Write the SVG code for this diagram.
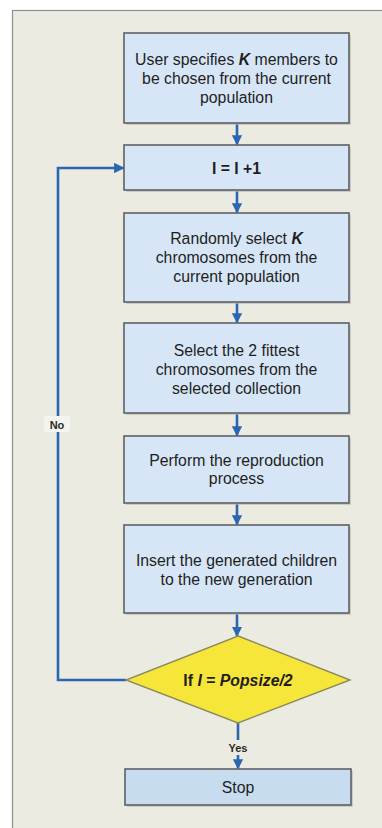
<svg xmlns="http://www.w3.org/2000/svg" width="382" height="828" viewBox="0 0 382 828">
  <style>
    .box { fill: #d6e6f6; stroke: #5e6164; stroke-width: 1.6; }
    .stop { fill: #c8dcef; stroke: #5e6164; stroke-width: 1.6; }
    .shadow { fill: #b8b8ae; opacity: 0.6; }
    .txt { font-family: "Liberation Sans", Arial, sans-serif; font-size: 15.8px; fill: #1e1e1e; text-anchor: middle; }
    .bold { font-weight: bold; }
    .lbl { font-family: "Liberation Sans", Arial, sans-serif; font-size: 11px; font-weight: bold; fill: #2a2a2a; text-anchor: middle; }
    .flow { stroke: #2a66b2; stroke-width: 2.6; fill: none; }
  </style>
  <defs>
    <marker id="arrow" viewBox="0 0 10 10" refX="9" refY="5" markerWidth="4" markerHeight="4" orient="auto" markerUnits="strokeWidth">
      <path d="M0,0 L10,5 L0,10 z" fill="#2a66b2"/>
    </marker>
  </defs>

  <!-- page background and panel -->
  <rect x="0" y="0" width="382" height="828" fill="#ffffff"/>
  <rect x="12.5" y="10.5" width="380" height="830" fill="#ebebe1" stroke="#8e8e88" stroke-width="1.2"/>

  <!-- connectors -->
  <g id="connectors">
    <line class="flow" x1="237" y1="124" x2="237" y2="144.5" marker-end="url(#arrow)"/>
    <line class="flow" x1="237" y1="191" x2="237" y2="212.5" marker-end="url(#arrow)"/>
    <line class="flow" x1="237" y1="303" x2="237" y2="322.5" marker-end="url(#arrow)"/>
    <line class="flow" x1="237" y1="414" x2="237" y2="435.5" marker-end="url(#arrow)"/>
    <line class="flow" x1="237" y1="504" x2="237" y2="524.5" marker-end="url(#arrow)"/>
    <line class="flow" x1="237" y1="614" x2="237" y2="636" marker-end="url(#arrow)"/>
    <line class="flow" x1="238" y1="723" x2="238" y2="768.5" marker-end="url(#arrow)"/>
    <polyline class="flow" points="126,680 58,680 58,168 123.5,168" marker-end="url(#arrow)"/>
    <rect x="44" y="416" width="26" height="16" fill="#f4f4ee"/>
    <text class="lbl" x="57" y="429">No</text>
    <rect x="224" y="740" width="28" height="15" fill="#ebebe1"/>
    <text class="lbl" x="238" y="752">Yes</text>
  </g>

  <g id="n1">
    <rect class="shadow" x="126" y="35" width="225" height="90"/>
    <rect class="box" x="124" y="33" width="225" height="90"/>
    <text class="txt" x="236.5" y="65">User specifies <tspan font-weight="bold" font-style="italic">K</tspan> members to</text>
    <text class="txt" x="236.5" y="84">be chosen from the current</text>
    <text class="txt" x="236.5" y="102.5">population</text>
  </g>

  <g id="n2">
    <rect class="shadow" x="126" y="147" width="225" height="45"/>
    <rect class="box" x="124" y="145" width="225" height="45"/>
    <text class="txt bold" x="236.5" y="173.5">I = I +1</text>
  </g>

  <g id="n3">
    <rect class="shadow" x="126" y="215" width="225" height="89"/>
    <rect class="box" x="124" y="213" width="225" height="89"/>
    <text class="txt" x="236.5" y="244">Randomly select <tspan font-weight="bold" font-style="italic">K</tspan></text>
    <text class="txt" x="236.5" y="263">chromosomes from the</text>
    <text class="txt" x="236.5" y="282">current population</text>
  </g>

  <g id="n4">
    <rect class="shadow" x="126" y="325" width="225" height="90"/>
    <rect class="box" x="124" y="323" width="225" height="90"/>
    <text class="txt" x="236.5" y="355.5">Select the 2 fittest</text>
    <text class="txt" x="236.5" y="375">chromosomes from the</text>
    <text class="txt" x="236.5" y="394">selected collection</text>
  </g>

  <g id="n5">
    <rect class="shadow" x="126" y="438" width="225" height="67"/>
    <rect class="box" x="124" y="436" width="225" height="67"/>
    <text class="txt" x="236.5" y="465.5">Perform the reproduction</text>
    <text class="txt" x="236.5" y="484">process</text>
  </g>

  <g id="n6">
    <rect class="shadow" x="126" y="527" width="225" height="88"/>
    <rect class="box" x="124" y="525" width="225" height="88"/>
    <text class="txt" x="236.5" y="565.5">Insert the generated children</text>
    <text class="txt" x="236.5" y="584.5">to the new generation</text>
  </g>

  <g id="n7">
    <polygon points="238,636 350,680 238,723 126,680" fill="#f7e63a" stroke="#8c8a60" stroke-width="1.4"/>
    <text class="txt bold" x="238" y="685.5">If <tspan font-style="italic">I</tspan> = <tspan font-style="italic">Popsize/2</tspan></text>
  </g>

  <g id="n8">
    <rect class="shadow" x="127" y="771" width="226" height="36"/>
    <rect class="stop" x="125" y="769" width="226" height="36"/>
    <text class="txt" x="238" y="792.5">Stop</text>
  </g>
</svg>
